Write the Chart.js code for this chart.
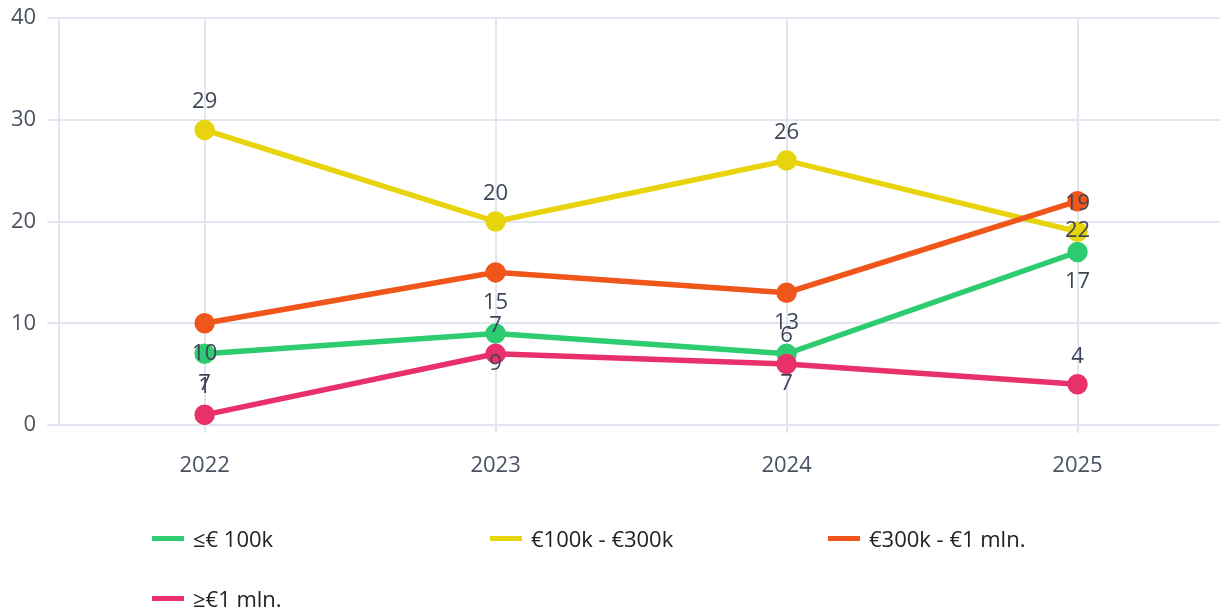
<!DOCTYPE html>
<html>
<head>
<meta charset="utf-8">
<script src="https://cdn.jsdelivr.net/npm/chart.js@4.4.1/dist/chart.umd.min.js"></script>
<style>
  html, body { margin: 0; padding: 0; background: #fff; overflow: hidden; }
  #wrap { position: relative; width: 1220px; height: 613px; overflow: hidden; }
  #legend {
    position: absolute; left: 152px; top: 508px;
    display: grid; grid-template-columns: 338px 338px 338px; grid-auto-rows: 60px;
    font-family: "Open Sans", sans-serif; font-size: 22px; color: #222;
  }
  .item { display: flex; align-items: center; }
  .swatch { width: 32px; height: 5px; margin-right: 9px; }
</style>
</head>
<body>
<div id="wrap">
  <canvas id="trendChart" width="1236" height="613"></canvas>
  <div id="legend"></div>
</div>
<script>
const years = ['2022', '2023', '2024', '2025'];
const seriesNames = ['≤€ 100k', '€100k - €300k', '€300k - €1 mln.', '≥€1 mln.'];
const upTo100k = [7, 9, 7, 17];
const from100kTo300k = [29, 20, 26, 19];
const from300kTo1m = [10, 15, 13, 22];
const over1m = [1, 7, 6, 4];
const yTicks = [0, 10, 20, 30, 40];

const colors = ['#2ecc71', '#e8d40c', '#f0561a', '#e8306b'];
const labelSide = ['below', 'above', 'below', 'above'];
const values = [upTo100k, from100kTo300k, from300kTo1m, over1m];

const gridColor = '#e3e6f1';
const tickColor = '#4a5262';

// point labels drawn after all lines, like the original
const pointLabels = {
    id: 'pointLabels',
    afterDatasetsDraw(chart) {
        const ctx = chart.ctx;
        ctx.save();
        ctx.font = '22px "Open Sans"';
        ctx.fillStyle = '#3d4657';
        ctx.textAlign = 'center';
        ctx.textBaseline = 'middle';
        chart.data.datasets.forEach((ds, i) => {
            const meta = chart.getDatasetMeta(i);
            meta.data.forEach((pt, j) => {
                const dy = ds.labelSide === 'above' ? -28 : 30;
                ctx.fillText(String(ds.data[j]), pt.x, pt.y + dy);
            });
        });
        ctx.restore();
    }
};

const datasets = seriesNames.map((name, i) => ({
    label: name,
    data: values[i],
    borderColor: colors[i],
    backgroundColor: colors[i],
    borderWidth: 5.5,
    pointRadius: 7.5,
    pointHoverRadius: 7.5,
    tension: 0,
    order: seriesNames.length - 1 - i,
    labelSide: labelSide[i]
}));

const chart = new Chart(document.getElementById('trendChart'), {
    type: 'line',
    data: { labels: years, datasets: datasets },
    options: {
        responsive: false,
        animation: false,
        layout: { padding: { top: 18, right: 0, bottom: 128, left: 0 } },
        plugins: {
            legend: { display: false },
            tooltip: { enabled: false }
        },
        scales: {
            x: {
                offset: true,
                grid: { offset: false, color: gridColor, lineWidth: 2, tickLength: 8 },
                border: { color: gridColor, width: 2 },
                ticks: { color: tickColor, font: { family: 'Open Sans', size: 22 }, padding: 20 },
                afterFit(scale) {
                    scale.height = 60;
                    scale.paddingLeft = 0;
                    scale.paddingRight = 0;
                }
            },
            y: {
                min: 0,
                max: 40,
                afterBuildTicks(scale) { scale.ticks = yTicks.map(v => ({ value: v })); },
                grid: { color: gridColor, lineWidth: 2, tickLength: 12 },
                border: { color: gridColor, width: 2 },
                ticks: { color: tickColor, font: { family: 'Open Sans', size: 22 }, padding: 11 },
                afterFit(scale) {
                    scale.paddingTop = 0;
                    scale.paddingBottom = 0;
                }
            }
        }
    },
    plugins: [pointLabels]
});

const legend = document.getElementById('legend');
seriesNames.forEach((name, i) => {
    const item = document.createElement('div');
    item.className = 'item';
    const sw = document.createElement('span');
    sw.className = 'swatch';
    sw.style.background = colors[i];
    const txt = document.createElement('span');
    txt.textContent = name;
    item.appendChild(sw);
    item.appendChild(txt);
    legend.appendChild(item);
});
</script>
</body>
</html>
